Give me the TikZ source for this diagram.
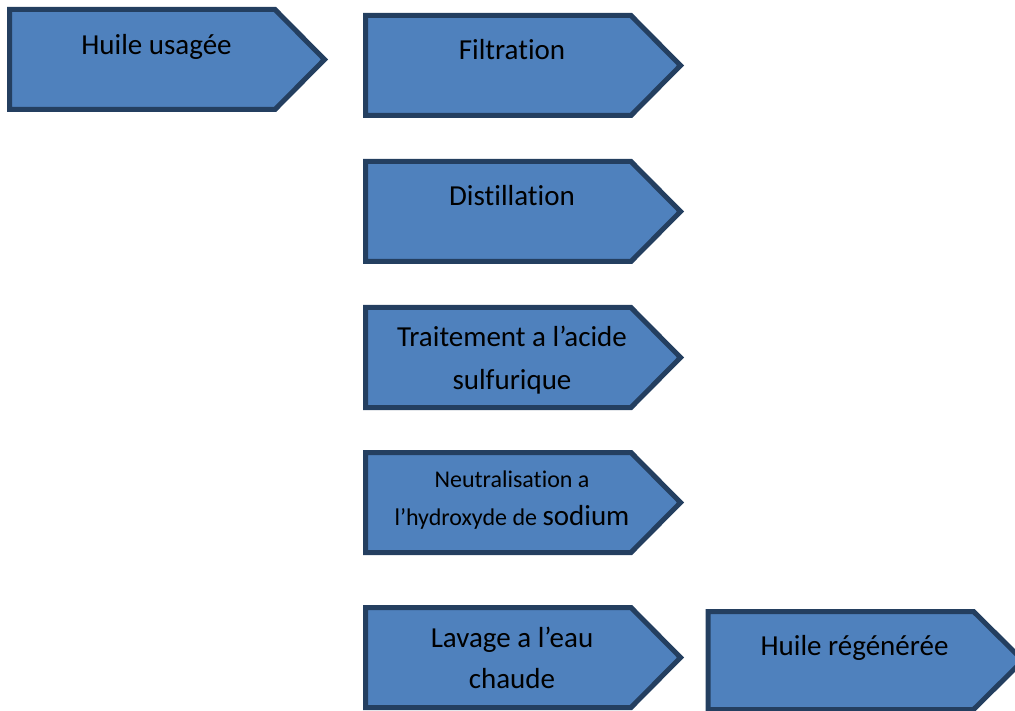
\documentclass[tikz,border=0pt]{standalone}
\usepackage{fontspec}
\setmainfont{Carlito}[Ligatures={NoCommon}]
\definecolor{boxfill}{HTML}{4F81BD}
\definecolor{boxline}{HTML}{243F60}
\tikzset{
  chevron/.style={fill=boxfill, draw=boxline, line width=5pt, line join=miter},
  lbl/.style={anchor=base, inner sep=0pt, font=\fontsize{29}{35}\selectfont, text=black},
  smalllbl/.style={anchor=base, inner sep=0pt, font=\fontsize{24}{29}\selectfont, text=black}
}
\newcommand{\chevbox}[4]{% name, left, top, height
  \coordinate (#1) at (#2,#3);
  \draw[chevron] (#2,#3) -- ({#2+265.5},#3) -- ({#2+315},{#3+#4/2})
    -- ({#2+265.5},{#3+#4}) -- (#2,{#3+#4}) -- cycle;
}
\begin{document}
\begin{tikzpicture}[x=1pt,y=-1pt]
\useasboundingbox (0,0) rectangle (1015,711);
\clip (0,0) rectangle (1015,711);
\chevbox{s1}{9.5}{9.5}{100}
\chevbox{s2}{365.5}{15.5}{100}
\chevbox{s3}{365.5}{161.5}{100}
\chevbox{s4}{365.5}{307.5}{100}
\chevbox{s5}{365.5}{452.5}{100}
\chevbox{s6}{365.5}{607.5}{100}
\chevbox{s7}{708}{611.5}{98}
\node[lbl] (t1) at (156.5,55) {Huile usagée};
\node[lbl] (t2) at (512,60) {Filtration};
\node[lbl] (t3) at (512,206) {Distillation};
\node[lbl] (t4a) at (512,347) {Traitement a l’acide};
\node[lbl] (t4b) at (512,389) {sulfurique};
\node[smalllbl] (t5a) at (512,487) {Neutralisation a};
\node[smalllbl] (t5b) at (512,525) {l’hydroxyde de \fontsize{29}{35}\selectfont sodium};
\node[lbl] (t6a) at (512,647) {Lavage a l’eau};
\node[lbl] (t6b) at (512,688) {chaude};
\node[lbl] (t7) at (854.5,655) {Huile régénérée};
\end{tikzpicture}
\end{document}
